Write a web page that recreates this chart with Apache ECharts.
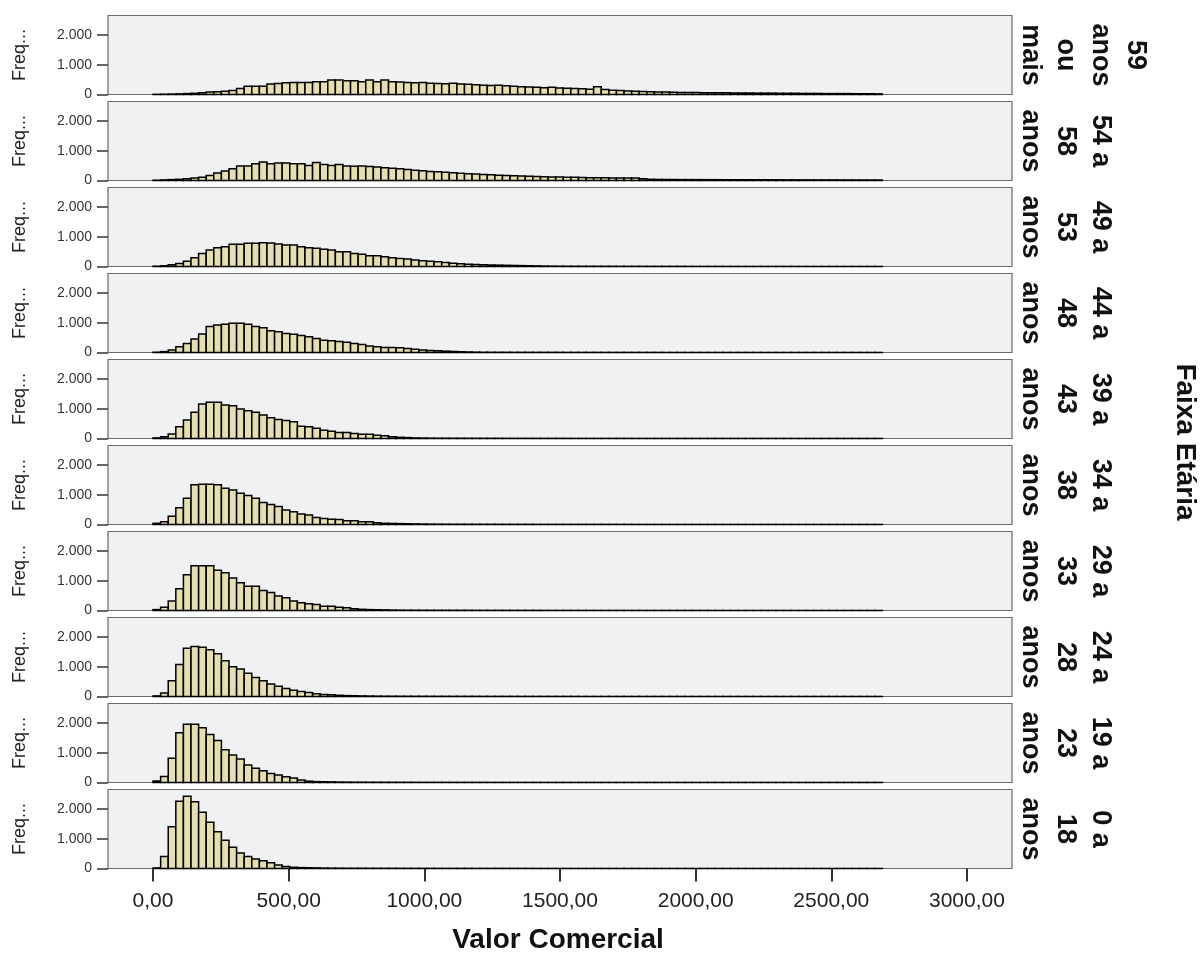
<!DOCTYPE html>
<html>
<head>
<meta charset="utf-8">
<script src="https://cdn.jsdelivr.net/npm/echarts@6/dist/echarts.min.js"></script>
<style>
html,body{margin:0;padding:0;background:#fff;}
#chart{width:1200px;height:955px;}
</style>
</head>
<body>
<div id="chart"></div>
<script>
// ---- Data ----
const binStart = 0;
const binWidth = 28;
const xTickValues = [0, 500, 1000, 1500, 2000, 2500, 3000];
const yTickValues = [0, 1000, 2000];
const xAxisTitle = 'Valor Comercial';
const facetTitle = 'Faixa Etária';
const yAxisTitle = 'Freq...';

const groupLines = [
  ['59', 'anos', 'ou', 'mais'],
  ['54 a', '58', 'anos'],
  ['49 a', '53', 'anos'],
  ['44 a', '48', 'anos'],
  ['39 a', '43', 'anos'],
  ['34 a', '38', 'anos'],
  ['29 a', '33', 'anos'],
  ['24 a', '28', 'anos'],
  ['19 a', '23', 'anos'],
  ['0 a', '18', 'anos']
];

const c59mais = [
  5,10,15,20,30,40,60,80,90,110,
  130,200,280,280,280,350,370,395,405,405,
  405,430,430,485,485,460,460,430,485,430,
  485,430,420,400,390,400,380,370,360,380,
  350,340,330,310,300,310,290,280,260,250,
  240,230,240,220,210,200,190,180,260,170,
  140,130,120,110,100,90,85,80,75,70,
  70,65,60,60,55,55,50,50,50,45,
  45,45,40,40,40,35,35,35,30,30,
  30,30,25,25,25,20];

const c54a58 = [
  10,20,30,40,60,80,110,170,250,315,
  395,485,485,560,620,560,585,585,560,560,
  505,600,540,505,540,485,480,490,470,450,
  430,410,390,370,345,325,305,290,275,260,
  245,230,215,200,190,180,170,160,150,140,
  135,128,120,115,110,105,100,95,92,90,
  88,85,82,80,60,40,35,33,32,30,
  30,29,28,28,27,26,26,25,25,24,
  24,23,23,22,22,21,21,20,20,20,
  19,19,18,18,17,17];

const c49a53 = [
  10,25,55,100,180,295,440,550,630,665,
  745,745,780,780,800,790,755,720,720,665,
  630,610,580,550,495,495,440,415,360,360,
  325,290,270,250,215,190,180,160,135,110,
  90,75,65,55,50,45,40,35,30,25,
  20,15,12,10,8,8,7,7,6,6,
  6,5,5,5,5,4,4,4,4,4,
  3,3,3,3,3,2,2,2,2,2,
  2,2,2,2,2,1,1,1,1,1,
  1,1,1,1,1,1];

const c44a48 = [
  10,30,80,190,300,450,620,870,920,945,
  980,980,945,870,830,730,700,640,610,570,
  530,470,415,395,370,340,300,270,215,190,
  170,170,160,135,110,80,70,55,45,35,
  25,18,12,8,8,7,7,6,6,6,
  5,5,5,5,4,4,4,4,4,3,
  3,3,3,3,3,3,3,2,2,2,
  2,2,2,2,2,2,2,2,2,2,
  1,1,1,1,1,1,1,1,1,1,
  1,1,1,1,1,1];

const c39a43 = [
  20,60,150,395,620,880,1160,1215,1215,1125,
  1100,990,935,880,790,700,640,600,560,415,
  395,340,280,245,200,200,170,145,145,110,
  90,55,40,30,20,15,12,10,9,8,
  8,7,7,6,6,6,5,5,5,5,
  4,4,4,4,4,3,3,3,3,3,
  3,3,3,2,2,2,2,2,2,2,
  2,2,2,2,2,2,2,1,1,1,
  1,1,1,1,1,1,1,1,1,1,
  1,1,1,1,1,1];

const c34a38 = [
  40,90,280,560,880,1330,1350,1350,1330,1220,
  1160,1050,970,880,740,675,600,485,430,350,
  315,235,200,180,170,125,125,90,90,55,
  40,35,30,25,20,15,12,10,9,8,
  8,7,7,6,6,6,5,5,5,5,
  4,4,4,4,4,3,3,3,3,3,
  3,3,3,2,2,2,2,2,2,2,
  2,2,2,2,2,2,2,1,1,1,
  1,1,1,1,1,1,1,1,1,1,
  1,1,1,1,1,1];

const c29a33 = [
  30,110,315,730,1200,1500,1500,1500,1350,1270,
  1090,935,810,810,675,600,485,430,315,260,
  225,200,145,145,110,90,56,40,30,25,
  20,15,12,10,9,8,8,7,7,6,
  6,6,5,5,5,5,4,4,4,4,
  4,3,3,3,3,3,3,3,3,2,
  2,2,2,2,2,2,2,2,2,2,
  2,2,2,1,1,1,1,1,1,1,
  1,1,1,1,1,1,1,1,1,1,
  1,1,1,1,1,1];

const c24a28 = [
  20,120,530,1070,1620,1680,1650,1570,1430,1200,
  1000,920,780,640,530,420,340,270,210,170,
  135,90,70,55,40,30,25,20,15,12,
  10,9,8,8,7,7,6,6,6,5,
  5,5,5,4,4,4,4,4,3,3,
  3,3,3,3,3,3,2,2,2,2,
  2,2,2,2,2,2,2,2,2,2,
  1,1,1,1,1,1,1,1,1,1,
  1,1,1,1,1,1,1,1,1,1,
  1,1,1,1,1,1];

const c19a23 = [
  50,200,810,1670,1950,1950,1840,1610,1410,1100,
  920,790,590,480,390,300,250,190,150,80,
  45,30,25,20,15,12,10,9,8,8,
  7,7,6,6,6,5,5,5,5,4,
  4,4,4,4,3,3,3,3,3,3,
  3,3,2,2,2,2,2,2,2,2,
  2,2,2,2,2,2,1,1,1,1,
  1,1,1,1,1,1,1,1,1,1,
  1,1,1,1,1,1,1,1,1,1,
  1,1,1,1,1,1];

const c0a18 = [
  20,400,1400,2260,2420,2240,1890,1550,1230,950,
  710,520,400,320,260,190,120,70,40,30,
  25,20,15,12,10,9,8,8,7,7,
  6,6,6,5,5,5,5,4,4,4,
  4,4,3,3,3,3,3,3,3,3,
  2,2,2,2,2,2,2,2,2,2,
  2,2,2,2,1,1,1,1,1,1,
  1,1,1,1,1,1,1,1,1,1,
  1,1,1,1,1,1,1,1,1,1,
  1,1,1,1,1,1];

const panelCounts = [c59mais, c54a58, c49a53, c44a48, c39a43, c34a38, c29a33, c24a28, c19a23, c0a18];

// ---- Layout / style ----
const xMin = -166, xMax = 3166, yMax = 2650;
const panelTop = 15.5, panelPitch = 86, panelHeight = 79;
const panelLeft = 108, panelRight = 188;
const barFill = '#e5dfb0';
const font = '"Liberation Sans", Arial, sans-serif';

function fmtX(v) { return v.toFixed(2).replace('.', ','); }
function fmtY(v) { return v === 0 ? '0' : (v / 1000) + '.000'; }

function renderBar(params, api) {
  const x0 = api.value(0), x1 = api.value(1), c = api.value(2);
  const p0 = api.coord([x0, c]);
  const p1 = api.coord([x1, 0]);
  return {
    type: 'rect',
    shape: { x: p0[0], y: p0[1], width: p1[0] - p0[0], height: p1[1] - p0[1] },
    style: { fill: barFill, stroke: '#000', lineWidth: 1.5 }
  };
}

const n = panelCounts.length;
const grids = [], xAxes = [], yAxes = [], series = [], graphics = [];

for (let i = 0; i < n; i++) {
  const top = panelTop + i * panelPitch;
  grids.push({
    left: panelLeft, right: panelRight, top: top, height: panelHeight,
    show: true, backgroundColor: '#f0f1f3', borderColor: '#6a6a6a', borderWidth: 1.2
  });
  const last = i === n - 1;
  xAxes.push({
    type: 'value', gridIndex: i, min: xMin, max: xMax,
    show: true,
    axisLine: { show: false, onZero: false },
    splitLine: { show: false },
    axisTick: last ? { show: true, customValues: xTickValues, length: 13, lineStyle: { color: '#333', width: 2 } } : { show: false },
    axisLabel: last ? { show: true, customValues: xTickValues, formatter: fmtX, fontSize: 21, color: '#222', margin: 22, fontFamily: font } : { show: false }
  });
  yAxes.push({
    type: 'value', gridIndex: i, min: 0, max: yMax,
    axisLine: { show: false, onZero: false },
    splitLine: { show: false },
    axisTick: { show: true, customValues: yTickValues, length: 11, lineStyle: { color: '#333', width: 1.5 } },
    axisLabel: { customValues: yTickValues, formatter: fmtY, fontSize: 14, color: '#333', margin: 16, fontFamily: font }
  });
  series.push({
    type: 'custom', xAxisIndex: i, yAxisIndex: i,
    renderItem: renderBar,
    encode: { x: [0, 1], y: 2 },
    data: panelCounts[i].map((c, k) => [binStart + k * binWidth, binStart + (k + 1) * binWidth, c])
  });
  const cy = top + panelHeight / 2;
  graphics.push({
    type: 'text', x: 20, y: cy, rotation: Math.PI / 2,
    style: { text: yAxisTitle, font: '18px ' + font, fill: '#222', align: 'center', verticalAlign: 'middle' }
  });
  graphics.push({
    type: 'text', x: 1013, y: cy, rotation: -Math.PI / 2,
    style: { text: groupLines[i].join('\n'), font: 'bold 27px ' + font, fill: '#111', align: 'center', verticalAlign: 'bottom', lineHeight: 35 }
  });
}

graphics.push({
  type: 'text', x: 1185, y: 442, rotation: -Math.PI / 2,
  style: { text: facetTitle, font: 'bold 28px ' + font, fill: '#111', align: 'center', verticalAlign: 'middle' }
});
graphics.push({
  type: 'text', x: 558, y: 940,
  style: { text: xAxisTitle, font: 'bold 28px ' + font, fill: '#111', align: 'center', verticalAlign: 'middle' }
});

const chart = echarts.init(document.getElementById('chart'), null, { renderer: 'canvas' });
chart.setOption({
  animation: false,
  backgroundColor: '#fff',
  grid: grids,
  xAxis: xAxes,
  yAxis: yAxes,
  series: series,
  graphic: graphics
});
</script>
</body>
</html>
